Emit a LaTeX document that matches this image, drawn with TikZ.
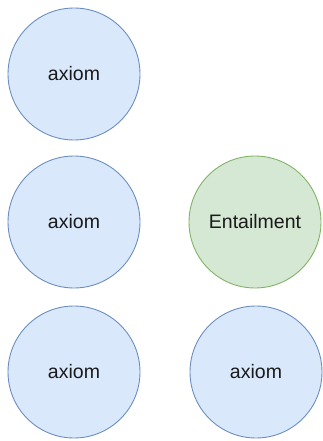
\documentclass[tikz,border=0pt]{standalone}
\usepackage{fontspec}
\setmainfont{Liberation Sans}
\usepackage{tikz}
\usetikzlibrary{positioning}
\definecolor{axfill}{HTML}{DAE8FC}
\definecolor{axline}{HTML}{6C8EBF}
\definecolor{enfill}{HTML}{D5E8D4}
\definecolor{enline}{HTML}{82B366}
\definecolor{txt}{HTML}{1A1A1A}
\tikzset{
  axiomnode/.style={circle,draw=axline,fill=axfill,line width=0.9pt,minimum size=132pt,inner sep=0pt,text=txt,font=\fontsize{19.5}{22}\selectfont},
  entailnode/.style={axiomnode,draw=enline,fill=enfill}
}

\begin{document}
\begin{tikzpicture}[x=1pt,y=-1pt]
    \useasboundingbox (0,0) rectangle (323,441);
    \node [axiomnode] (ax1) at (74,74) {axiom};
    \node [axiomnode] (ax2) at (74,222) {axiom};
    \node [axiomnode] (ax3) at (74,372) {axiom};
    \node [entailnode] (ent) at (255,222) {Entailment};
    \node [axiomnode] (ax4) at (256,372) {axiom};
\end{tikzpicture}
\end{document}
